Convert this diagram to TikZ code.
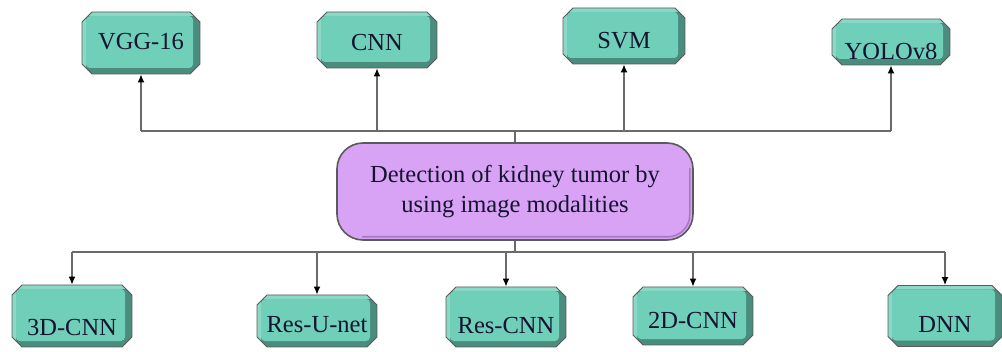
\documentclass[tikz,border=0pt]{standalone}
\usepackage{fontspec}
\setmainfont{Liberation Serif}
\usetikzlibrary{shapes.misc,calc,arrows.meta}
\definecolor{face}{HTML}{6FCFB9}
\definecolor{bevdark}{HTML}{4A8C7D}
\definecolor{bevlight}{HTML}{8CD8C6}
\definecolor{edge}{HTML}{5A5A5A}
\definecolor{purp}{HTML}{D9A3F5}
\definecolor{purpdark}{HTML}{A878C8}
\definecolor{txt}{HTML}{141430}
\definecolor{wire}{HTML}{6A6A6A}
\tikzset{
  mbox/.style={chamfered rectangle, chamfered rectangle xsep=5pt, chamfered rectangle ysep=5pt,
    minimum width=#1, inner sep=0pt, draw=edge, line width=0.8pt, text=txt,
    font=\fontsize{24.5}{29}\selectfont,
    path picture={
      \path (path picture bounding box.south west) coordinate (pA)
            (path picture bounding box.north east) coordinate (pB);
      \fill[bevdark] (pA) rectangle (pB);
      \fill[bevlight] (pA) -- ($(pA)+(4pt,6pt)$) -- ($(pA|-pB)+(4pt,-4pt)$) -- ($(pB)+(-7pt,-4pt)$) -- (pB) -- (pA|-pB) -- cycle;
      \fill[face, rounded corners=4pt] ($(pA)+(4pt,6pt)$) rectangle ($(pB)+(-7pt,-4pt)$);
    }},
  th/.style={text height=#1, text depth=0pt},
  wireline/.style={draw=wire, line width=1.4pt},
  arr/.style={draw=wire, line width=1.4pt, -{Latex[length=8pt,width=7pt,black]}},
}
\begin{document}
\begin{tikzpicture}[x=1pt,y=1pt]
\useasboundingbox (0,0) rectangle (1002,351);
% top boxes
\node[mbox=118pt, minimum height=62pt, th=14pt] (vgg) at (141,308) {VGG-16};
\node[mbox=120pt, minimum height=56pt, th=21pt] (cnn) at (377,311) {CNN};
\node[mbox=122pt, minimum height=56pt, th=26pt] (svm) at (624,315) {SVM};
\node[mbox=118pt, minimum height=46pt, th=36pt] (yolo) at (891,309) {YOLOv8};
% center
\node[draw=edge, line width=1.6pt, fill=purp, rounded corners=26pt,
      minimum width=356pt, minimum height=97pt, inner sep=0pt, align=center, text=txt,
      font=\fontsize{24.5}{30}\selectfont] (c) at (515,159.5)
      {Detection of kidney tumor by\\using image modalities};
\draw[purpdark, line width=1.6pt, rounded corners=22pt]
  ($(c.north east)+(-4pt,-26pt)$) -- ($(c.south east)+(-4pt,4pt)$) -- ($(c.south west)+(26pt,4pt)$);
% bottom boxes
\node[mbox=120pt, minimum height=62pt, th=39pt] (d3) at (72,35) {3D-CNN};
\node[mbox=120pt, minimum height=52pt, th=23pt] (resu) at (317,30) {Res-U-net};
\node[mbox=120pt, minimum height=60pt, th=33pt] (resc) at (506,34) {Res-CNN};
\node[mbox=120pt, minimum height=58pt, th=25pt] (d2) at (693,35) {2D-CNN};
\node[mbox=114pt, minimum height=61pt, th=33pt] (dnn) at (945,35) {DNN};
% top bus
\coordinate (tb) at (515,220);
\draw[wireline] (c.north) -- (tb);
\draw[wireline] (vgg.south |- tb) -- (yolo.south |- tb);
\draw[arr] (vgg.south |- tb) -- (vgg.south);
\draw[arr] (cnn.south |- tb) -- (cnn.south);
\draw[arr] (svm.south |- tb) -- (svm.south);
\draw[arr] (yolo.south |- tb) -- (yolo.south);
% bottom bus
\coordinate (bb) at (515,99);
\draw[wireline] (c.south) -- (bb);
\draw[wireline] (d3.north |- bb) -- (dnn.north |- bb);
\draw[arr] (d3.north |- bb) -- (d3.north);
\draw[arr] (resu.north |- bb) -- (resu.north);
\draw[arr] (resc.north |- bb) -- (resc.north);
\draw[arr] (d2.north |- bb) -- (d2.north);
\draw[arr] (dnn.north |- bb) -- (dnn.north);
\end{tikzpicture}
\end{document}
